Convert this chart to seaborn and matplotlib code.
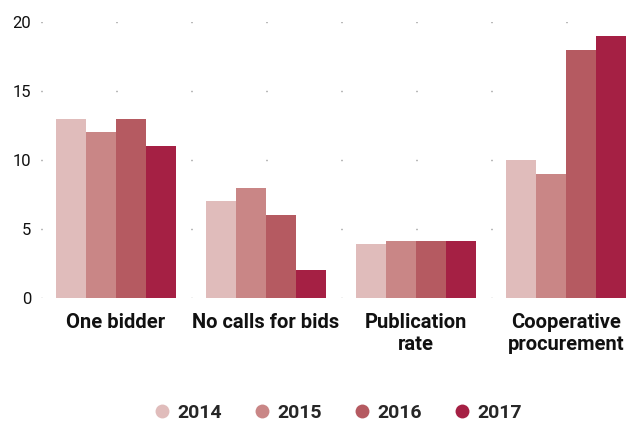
import matplotlib
matplotlib.use("Agg")
import matplotlib.pyplot as plt
import seaborn as sns
import pandas as pd
from matplotlib.lines import Line2D

categories = ["One bidder", "No calls for bids", "Publication\nrate", "Cooperative\nprocurement"]
years = ["2014", "2015", "2016", "2017"]
v2014 = [13, 7, 3.9, 10]
v2015 = [12, 8, 4.15, 9]
v2016 = [13, 6, 4.15, 18]
v2017 = [11, 2, 4.15, 19]
colors = ["#e0bcbb", "#c98686", "#b55a61", "#a52044"]
yticks = [0, 5, 10, 15, 20]

rows = []
for y, vals in zip(years, [v2014, v2015, v2016, v2017]):
    for c, v in zip(categories, vals):
        rows.append({"category": c, "year": y, "value": v})
df = pd.DataFrame(rows)

sns.set_style("white")
plt.rcParams["font.family"] = ["Roboto", "DejaVu Sans"]

fig = plt.figure(figsize=(6.26, 4.23), dpi=100)
ax = fig.add_axes([41/626, (423-298)/423, 1 - 41/626, (298-22)/423])

sns.barplot(data=df, x="category", y="value", hue="year", palette=colors,
            order=categories, hue_order=years, width=0.8, saturation=1,
            edgecolor="none", linewidth=0, ax=ax, legend=False, zorder=2)

ax.set_xlim(-0.5, 3.4)
ax.set_ylim(0, 20)
ax.set_yticks(yticks)
ax.set_yticklabels([str(t) for t in yticks], fontsize=12, color="#111111")
ax.set_xlabel("")
ax.set_ylabel("")
for s in ax.spines.values():
    s.set_visible(False)
ax.tick_params(axis="both", length=0)
ax.tick_params(axis="y", pad=7)
ax.tick_params(axis="x", pad=11)
for lbl in ax.get_xticklabels():
    lbl.set_fontsize(14.5)
    lbl.set_fontweight("bold")
    lbl.set_color("#111111")
    lbl.set_linespacing(1.2)
    lbl.set_va("top")

# dotted grid: one dot every 75 px
for t in yticks:
    ax.axhline(t, color="#777777", linewidth=1.0, zorder=1,
               linestyle=(0, (0.72, 53.28)), dash_capstyle="butt")

handles = [Line2D([0], [0], marker="o", linestyle="none", markersize=10,
                  markerfacecolor=c, markeredgecolor="none") for c in colors]
fig.legend(handles, years, loc="center", bbox_to_anchor=(337/626, 1 - 413/423),
           ncol=4, frameon=False, handletextpad=0.3, columnspacing=1.55,
           prop={"weight": "bold", "size": 14}, handlelength=1.0)

fig.savefig("out.png", dpi=100)
